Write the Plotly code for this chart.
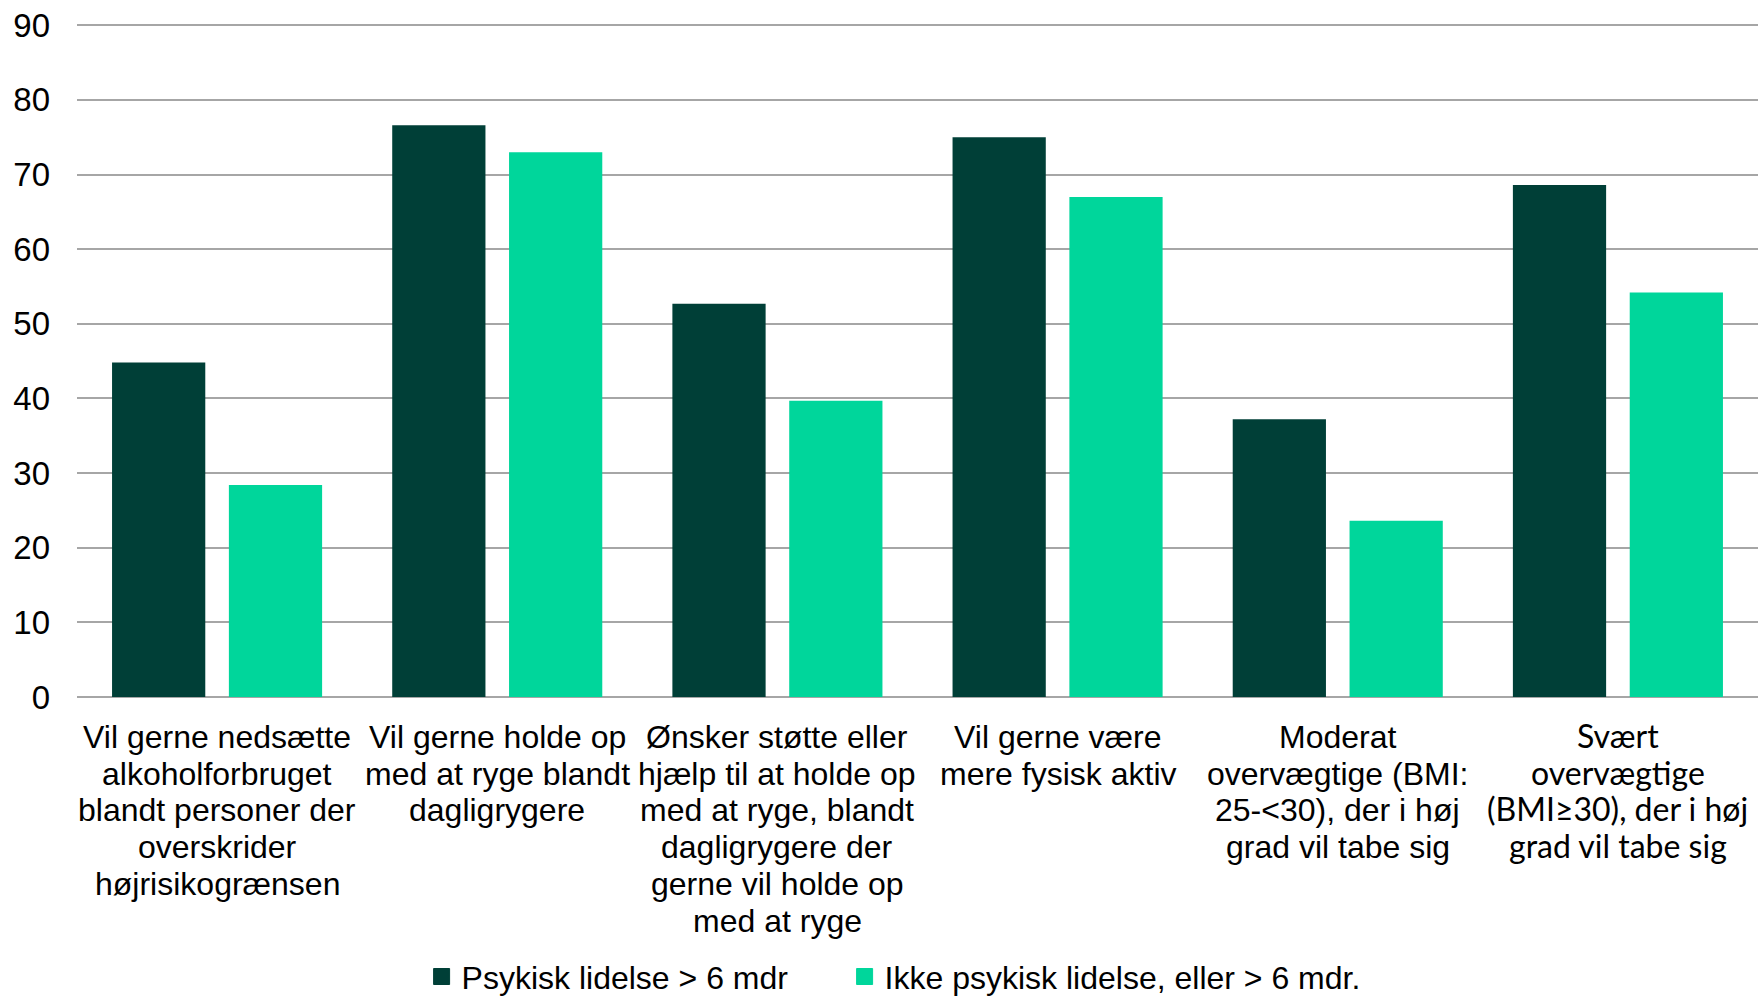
import plotly.graph_objects as go

# ---- data ----
category_lines = [
    ["Vil gerne nedsætte", "alkoholforbruget", "blandt personer der", "overskrider", "højrisikogrænsen"],
    ["Vil gerne holde op", "med at ryge blandt", "dagligrygere"],
    ["Ønsker støtte eller", "hjælp til at holde op", "med at ryge, blandt", "dagligrygere der", "gerne vil holde op", "med at ryge"],
    ["Vil gerne være", "mere fysisk aktiv"],
    ["Moderat", "overvægtige (BMI:", "25-<30), der i høj", "grad vil tabe sig"],
    ["Svært", "overvægtige", "(BMI≥30), der i høj", "grad vil tabe sig"],
]
series_names = ["Psykisk lidelse > 6 mdr", "Ikke psykisk lidelse, eller > 6 mdr."]
psykisk = [44.8, 76.6, 52.7, 75.0, 37.2, 68.6]
ikke_psykisk = [28.4, 73.0, 39.7, 67.0, 23.6, 54.2]
y_ticks = [0, 10, 20, 30, 40, 50, 60, 70, 80, 90]

# ---- style ----
DARK = "#003F37"
LIGHT = "#00D69B"
GRID = "#A6A6A6"
FONT = "Liberation Sans, Arial, sans-serif"
ALT_FONT = "Lato, Raleway, sans-serif"
FS = 32
LINE_H = 36.7

categories = [" ".join(c) for c in category_lines]

fig = go.Figure()
legend_widths = [378, 520]
for (name, vals, col), lw in zip([(series_names[0], psykisk, DARK), (series_names[1], ikke_psykisk, LIGHT)], legend_widths):
    fig.add_trace(go.Bar(x=categories, y=vals, name=name, marker=dict(color=col, line=dict(width=0)),
                         showlegend=False, legendgroup=name))
    # legend entry with a larger square symbol
    fig.add_trace(go.Scatter(x=[None], y=[None], mode="markers", name=name, legendgroup=name,
                             marker=dict(symbol="square", size=16, color=col, line=dict(color=col, width=1)),
                             showlegend=True, legendwidth=lw))

annotations = []
for ci, lines in enumerate(category_lines):
    last = ci == len(category_lines) - 1
    fam = ALT_FONT if last else FONT
    base = 17 if last else 20
    for li, line in enumerate(lines):
        annotations.append(dict(
            x=categories[ci], xref="x", y=0, yref="paper", yanchor="top", xanchor="center",
            yshift=-(base + LINE_H * li), text=line.replace("<", "&lt;"), showarrow=False,
            font=dict(family=fam, size=FS, color="#000000"),
        ))

fig.update_layout(
    width=1760, height=996,
    margin=dict(l=77, r=2, t=23, b=299, autoexpand=False),
    paper_bgcolor="white", plot_bgcolor="white",
    barmode="group", bargap=0.166, bargroupgap=0.202,
    font=dict(family=FONT, size=FS, color="#000000"),
    showlegend=True,
    legend=dict(orientation="h", x=0.205, xanchor="left", y=-0.415, yanchor="middle",
                font=dict(family=FONT, size=FS, color="#000000"),
                itemclick=False, itemdoubleclick=False,
                bgcolor="rgba(0,0,0,0)"),
    annotations=annotations,
)
fig.update_xaxes(type="category", showticklabels=False, showgrid=False, showline=False,
                 ticks="", range=[-0.5, len(categories) - 0.5], zeroline=False)
fig.update_yaxes(range=[0, 90.3], tickvals=y_ticks, showgrid=True, gridcolor=GRID, gridwidth=1.5,
                 zeroline=True, zerolinecolor=GRID, zerolinewidth=1.5, showline=False,
                 ticks="", ticklabelstandoff=26, tickfont=dict(family=FONT, size=33, color="#000000"))

fig.write_html("out.html", config={"displayModeBar": False},
               post_script="document.body.style.margin='0';")
